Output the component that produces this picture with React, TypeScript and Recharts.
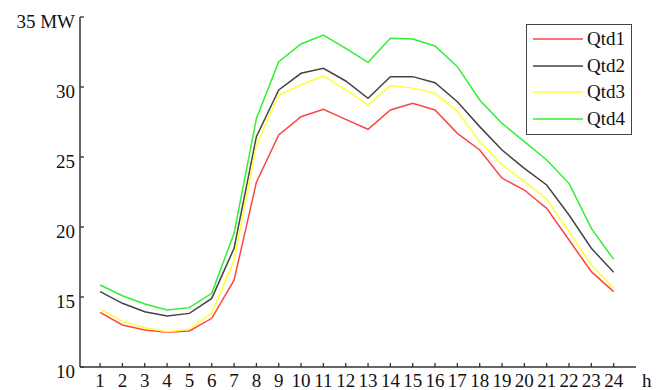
import { LineChart, Line, XAxis, YAxis } from "recharts";

const hours = [1, 2, 3, 4, 5, 6, 7, 8, 9, 10, 11, 12, 13, 14, 15, 16, 17, 18, 19, 20, 21, 22, 23, 24];

const qtd1 = [13.9, 13.0, 12.64, 12.48, 12.57, 13.48, 16.2, 23.2, 26.57, 27.88, 28.4, 27.69, 26.98, 28.36, 28.83, 28.36, 26.69, 25.5, 23.48, 22.64, 21.33, 19.07, 16.81, 15.38];
const qtd2 = [15.38, 14.55, 13.95, 13.64, 13.83, 14.9, 18.48, 26.45, 29.79, 30.98, 31.33, 30.43, 29.19, 30.74, 30.74, 30.31, 28.95, 27.17, 25.5, 24.19, 23.0, 20.86, 18.48, 16.76];
const qtd3 = [14.14, 13.24, 12.8, 12.52, 12.69, 13.83, 17.64, 25.86, 29.43, 30.14, 30.79, 29.79, 28.71, 30.1, 29.92, 29.55, 28.24, 26.1, 24.43, 23.24, 21.98, 19.67, 17.29, 15.62];
const qtd4 = [15.86, 15.09, 14.5, 14.07, 14.24, 15.26, 19.55, 27.76, 31.81, 33.07, 33.71, 32.76, 31.76, 33.48, 33.43, 32.93, 31.45, 29.07, 27.4, 26.1, 24.79, 23.12, 19.9, 17.69];

const yTicks = [10, 15, 20, 25, 30, 35];

const SERIES = [
  { key: "Qtd1", values: qtd1, color: "#ff4444" },
  { key: "Qtd2", values: qtd2, color: "#444444" },
  { key: "Qtd3", values: qtd3, color: "#ffff33" },
  { key: "Qtd4", values: qtd4, color: "#33ee33" },
];

const data = hours.map((h, i) => {
  const row: Record<string, number> = { h };
  SERIES.forEach(s => {
    row[s.key] = s.values[i];
  });
  return row;
});

const FONT = "Liberation Serif, serif";
const FONT_SIZE = 19;
const AXIS_COLOR = "#333333";

function XTick({ x, y, payload }: { x?: number; y?: number; payload?: { value: number } }) {
  return (
    <g>
      <line x1={x} x2={x} y1={(y ?? 0) - 4} y2={y} stroke={AXIS_COLOR} strokeWidth={1.3} />
      <text x={x} y={(y ?? 0) + 20} textAnchor="middle" fontFamily={FONT} fontSize={FONT_SIZE} fill="#111">
        {payload?.value}
      </text>
    </g>
  );
}

function YTick({ x, y, payload }: { x?: number; y?: number; payload?: { value: number } }) {
  const v = payload?.value;
  return (
    <g>
      <line x1={x} x2={(x ?? 0) + 4} y1={y} y2={y} stroke={AXIS_COLOR} strokeWidth={1.3} />
      <text x={(x ?? 0) - 5} y={(y ?? 0) + 11} textAnchor="end" fontFamily={FONT} fontSize={FONT_SIZE} fill="#111">
        {v === 35 ? "35 MW" : v}
      </text>
    </g>
  );
}

// legend box, drawn over the plot top-right
function LegendBox() {
  return (
    <div
      style={{
        position: "absolute",
        left: 526,
        top: 24,
        border: "1.5px solid #444",
        background: "#fff",
        width: 106,
        height: 111,
        padding: "1px 0 0 6px",
        boxSizing: "border-box",
        fontFamily: FONT,
        fontSize: FONT_SIZE,
        color: "#111",
      }}
    >
      {SERIES.map(s => (
        <div key={s.key} style={{ display: "flex", alignItems: "center", height: 26.5 }}>
          <svg width={54} height={6} style={{ display: "block" }}>
            <line x1={0} x2={50} y1={3} y2={3} stroke={s.color} strokeWidth={1.6} />
          </svg>
          <span>{s.key}</span>
        </div>
      ))}
    </div>
  );
}

export default function App() {
  return (
    <div style={{ position: "absolute", left: 0, top: 0, width: 661, height: 390, background: "#fff" }}>
      <LineChart width={661} height={390} data={data} margin={{ top: 17, right: 25, bottom: 0, left: 0 }}>
        <XAxis
          dataKey="h"
          type="number"
          domain={[0.1, 25]}
          ticks={hours}
          interval={0}
          height={23}
          tickSize={0}
          tickMargin={0}
          tickLine={false}
          tick={<XTick />}
          axisLine={{ stroke: AXIS_COLOR, strokeWidth: 1.5 }}
          label={{ value: "h", position: "right", offset: 6, fontFamily: FONT, fontSize: FONT_SIZE, fill: "#111", dy: 2 }}
        />
        <YAxis
          type="number"
          domain={[10, 35]}
          ticks={yTicks}
          width={80}
          tickSize={0}
          tickMargin={0}
          tickLine={false}
          tick={<YTick />}
          axisLine={{ stroke: AXIS_COLOR, strokeWidth: 1.5 }}
        />
        {SERIES.map(s => (
          <Line
            key={s.key}
            dataKey={s.key}
            stroke={s.color}
            strokeWidth={1.5}
            dot={false}
            activeDot={false}
            type="linear"
            isAnimationActive={false}
          />
        ))}
      </LineChart>
      <LegendBox />
    </div>
  );
}
